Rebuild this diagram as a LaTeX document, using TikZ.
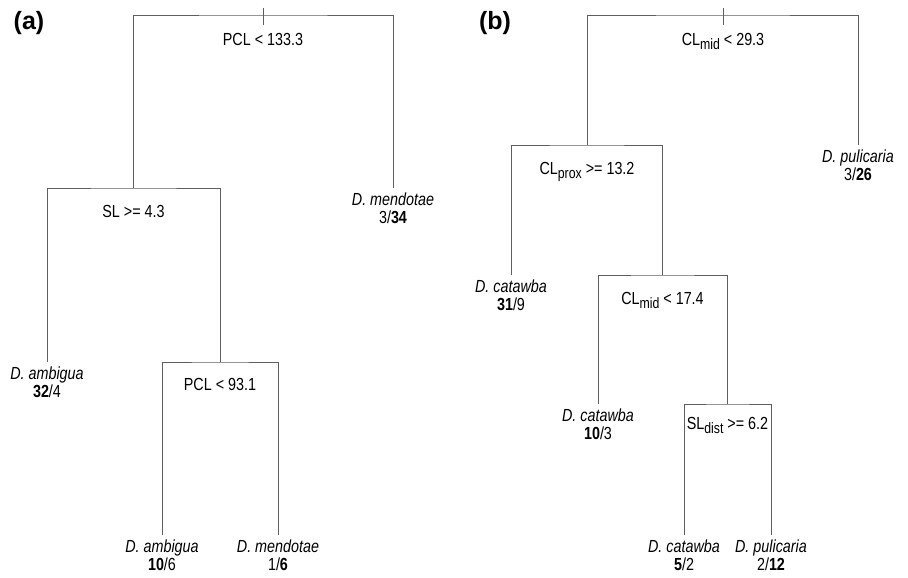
\documentclass[tikz,border=0pt]{standalone}
\usepackage{fontspec}
\usepackage{xcolor}
\usepackage{tikz}
\usetikzlibrary{positioning}
\newfontfamily\treefont[FakeStretch=0.82]{Liberation Sans}
\newfontfamily\panelfont{Liberation Sans}
\definecolor{bg}{HTML}{FFFFFF}
\definecolor{edge}{HTML}{5E5E5E}
\definecolor{ink}{HTML}{000000}
\newcommand{\lowsub}[1]{\raisebox{-4pt}{\fontsize{15}{15}\selectfont #1}}
\tikzset{
  branch/.style={draw=edge, line width=0.9pt, line cap=rect},
  cond/.style={text=ink, inner sep=0pt, outer sep=0pt, font=\treefont\fontsize{17.5}{18}\selectfont},
  leaf/.style={text=ink, anchor=north, align=center, inner xsep=0pt, inner ysep=5pt, outer sep=0pt,
    font=\treefont\fontsize{17.5}{18}\selectfont},
  panel/.style={text=ink, inner sep=0pt, font=\panelfont\bfseries\fontsize{25}{25}\selectfont},
}

\begin{document}
\begin{tikzpicture}[x=1pt, y=-1pt]
\useasboundingbox[fill=bg] (0,0) rectangle (908,578);

% panel (a)
\node[panel] (pa) at (29,23) {(a)};
\coordinate (ra) at (263,15);
\coordinate (sa1) at (133.5,188);
\coordinate (sa2) at (220,362);
\node[cond, below=18pt of ra] (ca0) {PCL < 133.3};
\node[cond, below=17pt of sa1] (ca1) {SL >= 4.3};
\node[cond, below=16pt of sa2] (ca2) {PCL < 93.1};
\node[leaf] (la1) at (393,188) {\textit{D. mendotae}\\3/\textbf{34}};
\node[leaf] (la2) at (47,362) {\textit{D. ambigua}\\\textbf{32}/4};
\node[leaf] (la3) at (162,535) {\textit{D. ambigua}\\\textbf{10}/6};
\node[leaf] (la4) at (278,535) {\textit{D. mendotae}\\1/\textbf{6}};

\draw[branch] ([yshift=7pt]ra) -- ([yshift=-10pt]ra);
\draw[branch] (sa1) |- (ra) -| (la1.north);
\draw[branch] (la2.north) |- (sa1) -| (sa2);
\draw[branch] (la3.north) |- (sa2) -| (la4.north);

% panel (b)
\node[panel] (pb) at (495,23) {(b)};
\coordinate (rb) at (723,15);
\coordinate (sb1) at (587,145);
\coordinate (sb2) at (662.5,275);
\coordinate (sb3) at (727.5,404);
\node[cond, below=18pt of rb] (cb0) {CL\lowsub{mid} < 29.3};
\node[cond, below=17pt of sb1] (cb1) {CL\lowsub{prox} >= 13.2};
\node[cond, below=17pt of sb2] (cb2) {CL\lowsub{mid} < 17.4};
\node[cond, below=13pt of sb3] (cb3) {SL\lowsub{dist} >= 6.2};
\node[leaf] (lb1) at (858,145) {\textit{D. pulicaria}\\3/\textbf{26}};
\node[leaf] (lb2) at (511,275) {\textit{D. catawba}\\\textbf{31}/9};
\node[leaf] (lb3) at (598,404) {\textit{D. catawba}\\\textbf{10}/3};
\node[leaf] (lb4) at (684,535) {\textit{D. catawba}\\\textbf{5}/2};
\node[leaf] (lb5) at (771,535) {\textit{D. pulicaria}\\2/\textbf{12}};

\draw[branch] ([yshift=7pt]rb) -- ([yshift=-10pt]rb);
\draw[branch] (sb1) |- (rb) -| (lb1.north);
\draw[branch] (lb2.north) |- (sb1) -| (sb2);
\draw[branch] (lb3.north) |- (sb2) -| (sb3);
\draw[branch] (lb4.north) |- (sb3) -| (lb5.north);
\end{tikzpicture}
\end{document}
